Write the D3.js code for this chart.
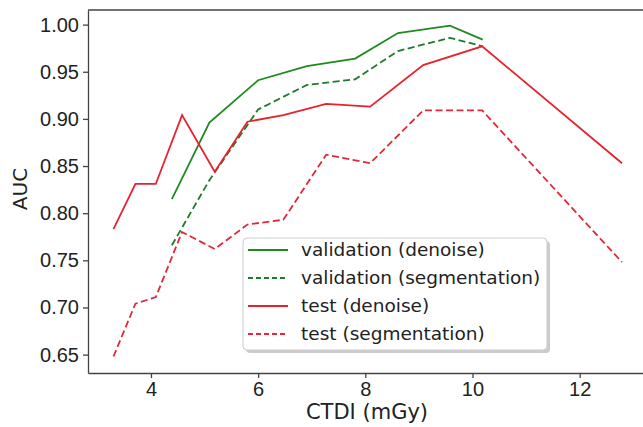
<!DOCTYPE html>
<html>
<head>
<meta charset="utf-8">
<script src="https://cdn.jsdelivr.net/npm/d3@7"></script>
<style>
  body { margin: 0; background: #fff; }
  svg { display: block; font-family: "DejaVu Sans", sans-serif; }
  .axis path, .axis line { stroke: #444; stroke-width: 1.3; }
  .axis text { fill: #222; font-size: 20px; }
</style>
</head>
<body>
<svg id="chart" width="643" height="427"></svg>
<script>
// CTDI values (x) for each dataset
const valX = [4.39, 5.09, 6.00, 6.91, 7.81, 8.61, 9.58, 10.19];
const testX = [3.30, 3.71, 4.09, 4.58, 5.19, 5.80, 6.47, 7.27, 8.09, 9.08, 10.18, 12.79];

// AUC values
const valDenoise = [0.815, 0.896, 0.941, 0.956, 0.964, 0.991, 0.999, 0.984];
const valSeg = [0.766, 0.835, 0.910, 0.936, 0.942, 0.972, 0.986, 0.977];
const testDenoise = [0.783, 0.831, 0.831, 0.904, 0.844, 0.897, 0.904, 0.916, 0.913, 0.957, 0.977, 0.853];
const testSeg = [0.648, 0.704, 0.711, 0.780, 0.762, 0.788, 0.793, 0.862, 0.853, 0.909, 0.909, 0.748];

const xTicks = [4, 6, 8, 10, 12];
const yTicks = [0.65, 0.70, 0.75, 0.80, 0.85, 0.90, 0.95, 1.00];

const series = [
  {name: "validation (denoise)", xs: valX, ys: valDenoise, color: "#1f8a1f", dash: null},
  {name: "validation (segmentation)", xs: valX, ys: valSeg, color: "#1f7a2a", dash: "7,3.5"},
  {name: "test (denoise)", xs: testX, ys: testDenoise, color: "#e8222c", dash: null},
  {name: "test (segmentation)", xs: testX, ys: testSeg, color: "#e0283a", dash: "7,3.5"}
];

const svg = d3.select("#chart");

// Plot area edges (right spine falls just outside the picture)
const plotLeft = 88, plotTop = 10, plotRight = 648, plotBottom = 373;

const x = d3.scaleLinear().domain([2.825, 13.275]).range([plotLeft, plotRight]);
const y = d3.scaleLinear().domain([0.6305, 1.0155]).range([plotBottom, plotTop]);

// Axes
svg.append("g")
    .attr("class", "axis")
    .attr("transform", "translate(0," + plotBottom + ")")
    .call(d3.axisBottom(x).tickValues(xTicks).tickSize(5).tickPadding(4).tickSizeOuter(0));

svg.append("g")
    .attr("class", "axis")
    .attr("transform", "translate(" + plotLeft + ",0)")
    .call(d3.axisLeft(y).tickValues(yTicks).tickFormat(d3.format(".2f")).tickSize(5).tickPadding(4).tickSizeOuter(0));

// Top and right spines
svg.append("line")
    .attr("x1", plotLeft).attr("x2", plotRight)
    .attr("y1", plotTop).attr("y2", plotTop)
    .attr("stroke", "#444").attr("stroke-width", 1.3);
svg.append("line")
    .attr("x1", plotRight).attr("x2", plotRight)
    .attr("y1", plotTop).attr("y2", plotBottom)
    .attr("stroke", "#444").attr("stroke-width", 1.3);

// Axis labels
svg.append("text")
    .attr("x", 367)
    .attr("y", 419)
    .attr("text-anchor", "middle")
    .attr("font-size", 21)
    .attr("fill", "#222")
    .text("CTDI (mGy)");

svg.append("text")
    .attr("transform", "translate(27,189)rotate(-90)")
    .attr("text-anchor", "middle")
    .attr("font-size", 20)
    .attr("fill", "#222")
    .text("AUC");

// Lines
const line = d3.line()
    .x(d => x(d[0]))
    .y(d => y(d[1]));

series.forEach(s => {
  svg.append("path")
      .datum(s.xs.map((v, i) => [v, s.ys[i]]))
      .attr("fill", "none")
      .attr("stroke", s.color)
      .attr("stroke-width", 1.8)
      .attr("stroke-dasharray", s.dash)
      .attr("d", line);
});

// Legend
const lg = svg.append("g").attr("transform", "translate(243,238)");
const lw = 304, lh = 112;

lg.append("rect")
    .attr("x", 3).attr("y", 3)
    .attr("width", lw).attr("height", lh)
    .attr("rx", 4)
    .attr("fill", "#999")
    .attr("opacity", 0.5);

lg.append("rect")
    .attr("width", lw).attr("height", lh)
    .attr("rx", 4)
    .attr("fill", "#fff")
    .attr("stroke", "#ccc");

const item = lg.selectAll(".item")
    .data(series)
  .enter().append("g")
    .attr("class", "item")
    .attr("transform", (d, i) => "translate(0," + (12 + i * 28) + ")");

item.append("line")
    .attr("x1", 5).attr("x2", 45)
    .attr("stroke", d => d.color)
    .attr("stroke-width", 1.8)
    .attr("stroke-dasharray", d => d.dash ? "5,3" : null);

item.append("text")
    .attr("x", 58)
    .attr("dy", "0.35em")
    .attr("font-size", 18.5)
    .attr("fill", "#222")
    .text(d => d.name);
</script>
</body>
</html>
